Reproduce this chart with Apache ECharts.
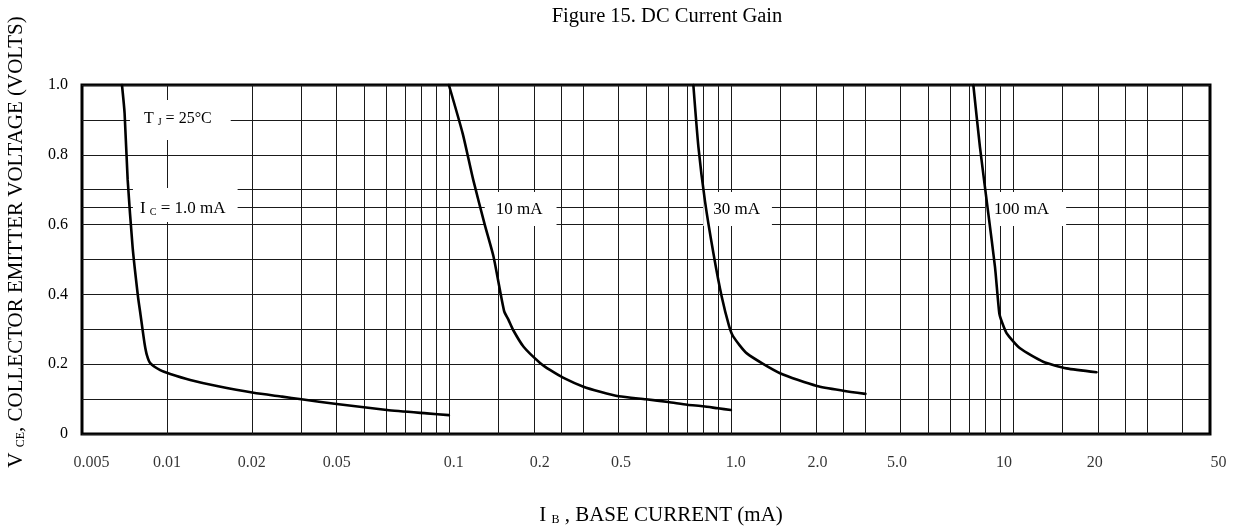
<!DOCTYPE html>
<html>
<head>
<meta charset="utf-8">
<script src="https://cdn.jsdelivr.net/npm/echarts@6/dist/echarts.min.js"></script>
<style>
  html, body { margin: 0; padding: 0; background: #fff; }
  #chart { width: 1238px; height: 531px; }
</style>
</head>
<body>
<div id="chart"></div>
<script>
// ---------------- data ----------------
// I_C = 1.0 mA
const ib1  = [0.00693, 0.00708, 0.00726, 0.00756, 0.00790, 0.00805, 0.00833, 0.00850, 0.00873, 0.00947, 0.01028, 0.0121, 0.01505, 0.0203, 0.0256, 0.030, 0.040, 0.0603, 0.0836, 0.100];
const vce1 = [1.000,   0.919,   0.728,   0.535,   0.393,   0.346,   0.260,   0.225,   0.203,   0.183,   0.172,   0.155,  0.1375,  0.118,  0.107,  0.0994, 0.086, 0.0688, 0.059, 0.054];
// I_C = 10 mA
const ib10  = [0.100, 0.112, 0.122, 0.134, 0.144, 0.157, 0.1627, 0.169, 0.184, 0.211, 0.229, 0.255, 0.300, 0.344, 0.400, 0.500, 0.600, 0.700, 0.800, 0.900, 1.000];
const vce10 = [1.000, 0.860, 0.728, 0.600, 0.508, 0.352, 0.327,  0.298, 0.250, 0.203, 0.183, 0.161, 0.1355, 0.121, 0.108, 0.0994, 0.0917, 0.084, 0.0794, 0.0736, 0.0688];
// I_C = 30 mA
const ib30  = [0.736, 0.767, 0.810, 0.867, 0.928, 0.985, 1.020, 1.139, 1.494, 2.017, 2.500, 3.000];
const vce30 = [1.000, 0.823, 0.665, 0.518, 0.393, 0.310, 0.279, 0.231, 0.174, 0.1375, 0.124, 0.115];
// I_C = 100 mA
const ib100  = [7.24, 7.64, 8.18, 8.64, 8.95, 9.15, 9.50, 10.6, 12.8, 15.5, 19.8];
const vce100 = [1.000, 0.823, 0.632, 0.479, 0.346, 0.320, 0.289, 0.2455, 0.207, 0.188, 0.177];

// x tick labels (text) and where the reference prints them (I_B, mA)
const xTickLabels = ['0.005', '0.01', '0.02', '0.05', '0.1', '0.2', '0.5', '1.0', '2.0', '5.0', '10', '20', '50'];
const xTickAt     = [0.0054, 0.01, 0.02, 0.04, 0.104, 0.21, 0.408, 1.04, 2.03, 3.88, 9.3, 19.5, 53.6];
// vertical grid rulings (I_B, mA)
const xGrid = [0.006, 0.007, 0.008, 0.009,
  0.01, 0.015, 0.02, 0.025, 0.03, 0.04, 0.05, 0.06, 0.07, 0.08, 0.09,
  0.1, 0.15, 0.2, 0.25, 0.3, 0.4, 0.5, 0.6, 0.7, 0.8, 0.9,
  1, 1.5, 2, 2.5, 3, 4, 5, 6, 7, 8, 9,
  10, 15, 20, 25, 30, 40];
// extra horizontal ruling through the curve labels (VCE)
const yExtra = [0.645];
// y tick labels
const yTicks = [0, 0.2, 0.4, 0.6, 0.8, 1.0];

// ---------------- chart ----------------
const FONT = '"Liberation Serif", "Times New Roman", serif';
const pairs = (xs, ys) => xs.map((x, i) => [x, ys[i]]);

const rich = {
  b:  { fontFamily: FONT, fontSize: 17, color: '#000', lineHeight: 18, verticalAlign: 'bottom' },
  bs: { fontFamily: FONT, fontSize: 16, color: '#000', lineHeight: 18, verticalAlign: 'bottom' },
  s:  { fontFamily: FONT, fontSize: 10, color: '#000', lineHeight: 10, verticalAlign: 'bottom' }
};

// annotation boxes: anchor is the box centre
const annotations = [
  { at: [0.01116, 0.900], text: '{bs|T }{s|J}{bs| = 25°C}', padding: [9, 19, 13, 14] },
  { at: [0.01162, 0.656], text: '{b|I }{s|C}{b| = 1.0 mA}', padding: [11, 12, 5, 7] },
  { at: [0.1797, 0.645],  text: '{b|10 mA}', padding: [8, 14, 8, 11] },
  { at: [1.056, 0.645],   text: '{b|30 mA}', padding: [8, 12, 8, 10] },
  { at: [11.13, 0.645],   text: '{b|100 mA}', padding: [8, 17, 8, 8] }
];

const curveStyle = { color: '#000', width: 2.6, cap: 'round', join: 'round' };
const mkCurve = (name, xs, ys) => ({
  name, type: 'line', data: pairs(xs, ys), showSymbol: false, symbol: 'none',
  smooth: 0.2, lineStyle: curveStyle, z: 5, silent: true, clip: false
});

const option = {
  animation: false,
  backgroundColor: '#fff',
  title: {
    text: 'Figure 15. DC Current Gain',
    left: 662, top: 1, textAlign: 'center',
    textStyle: { fontFamily: FONT, fontSize: 20.5, fontWeight: 'normal', color: '#000' }
  },
  grid: {
    left: 82, right: 28, top: 85, bottom: 97,
    show: true, borderColor: '#000', borderWidth: 3, backgroundColor: '#fff'
  },
  xAxis: {
    type: 'log', logBase: 10, min: 0.005, max: 50,
    axisLine: { show: false }, axisTick: { show: false },
    axisLabel: { show: false }, splitLine: { show: false }
  },
  yAxis: {
    type: 'value', min: 0, max: 1, interval: 0.2,
    axisLine: { show: false }, axisTick: { show: false },
    axisLabel: {
      fontFamily: FONT, fontSize: 16, color: '#000', margin: 14,
      formatter: v => (v === 0 ? '0' : v.toFixed(1))
    },
    splitLine: { show: true, lineStyle: { color: '#1a1a1a', width: 1 } },
    minorTick: { show: false, splitNumber: 2 },
    minorSplitLine: { show: true, lineStyle: { color: '#1a1a1a', width: 1 } }
  },
  graphic: [
    {
      type: 'text', x: 16, y: 242, rotation: Math.PI / 2,
      style: {
        text: '{v|V }{s|CE}{v|, COLLECTOR EMITTER VOLTAGE (VOLTS)}',
        align: 'center', verticalAlign: 'middle',
        rich: {
          v: { fontFamily: FONT, fontSize: 21, fill: '#000', lineHeight: 22, verticalAlign: 'bottom' },
          s: { fontFamily: FONT, fontSize: 12, fill: '#000', lineHeight: 12, verticalAlign: 'bottom' }
        }
      }
    },
    {
      type: 'text', x: 661, y: 515,
      style: {
        text: '{v|I }{s|B}{v| , BASE CURRENT (mA)}',
        align: 'center', verticalAlign: 'middle',
        rich: {
          v: { fontFamily: FONT, fontSize: 21, fill: '#000', lineHeight: 22, verticalAlign: 'bottom' },
          s: { fontFamily: FONT, fontSize: 12, fill: '#000', lineHeight: 12, verticalAlign: 'bottom' }
        }
      }
    }
  ],
  series: [
    {
      name: 'rulings', type: 'line', data: [], z: 1, silent: true,
      markLine: {
        z: 1, silent: true, symbol: ['none', 'none'], animation: false,
        label: { show: false },
        emphasis: { disabled: true },
        lineStyle: { color: '#1a1a1a', width: 1, type: 'solid' },
        data: xGrid.map(v => ({ xAxis: v })).concat(yExtra.map(v => ({ yAxis: v })))
      }
    },
    {
      name: 'labels', type: 'scatter', z: 3, silent: true, clip: false,
      symbolSize: 0, itemStyle: { color: '#fff', opacity: 1 },
      emphasis: { disabled: true },
      data: annotations.map(a => ({
        value: a.at,
        label: {
          show: true, position: 'inside', formatter: a.text, rich,
          color: '#000', opacity: 1, textBorderWidth: 0,
          backgroundColor: '#ffffff', padding: a.padding
        }
      }))
    },
    mkCurve('IC = 1.0 mA', ib1, vce1),
    mkCurve('IC = 10 mA', ib10, vce10),
    mkCurve('IC = 30 mA', ib30, vce30),
    mkCurve('IC = 100 mA', ib100, vce100),
    {
      name: 'xticks', type: 'scatter', z: 6, silent: true, clip: false,
      symbolSize: 0, itemStyle: { color: '#fff' },
      data: xTickAt.map((v, i) => ({ value: [v, 0], name: xTickLabels[i] })),
      label: {
        show: true, position: 'bottom', distance: 21,
        formatter: p => p.name,
        fontFamily: FONT, fontSize: 16, color: '#000'
      }
    }
  ]
};

const chart = echarts.init(document.getElementById('chart'), null, { renderer: 'canvas' });
chart.setOption(option);
</script>
</body>
</html>
